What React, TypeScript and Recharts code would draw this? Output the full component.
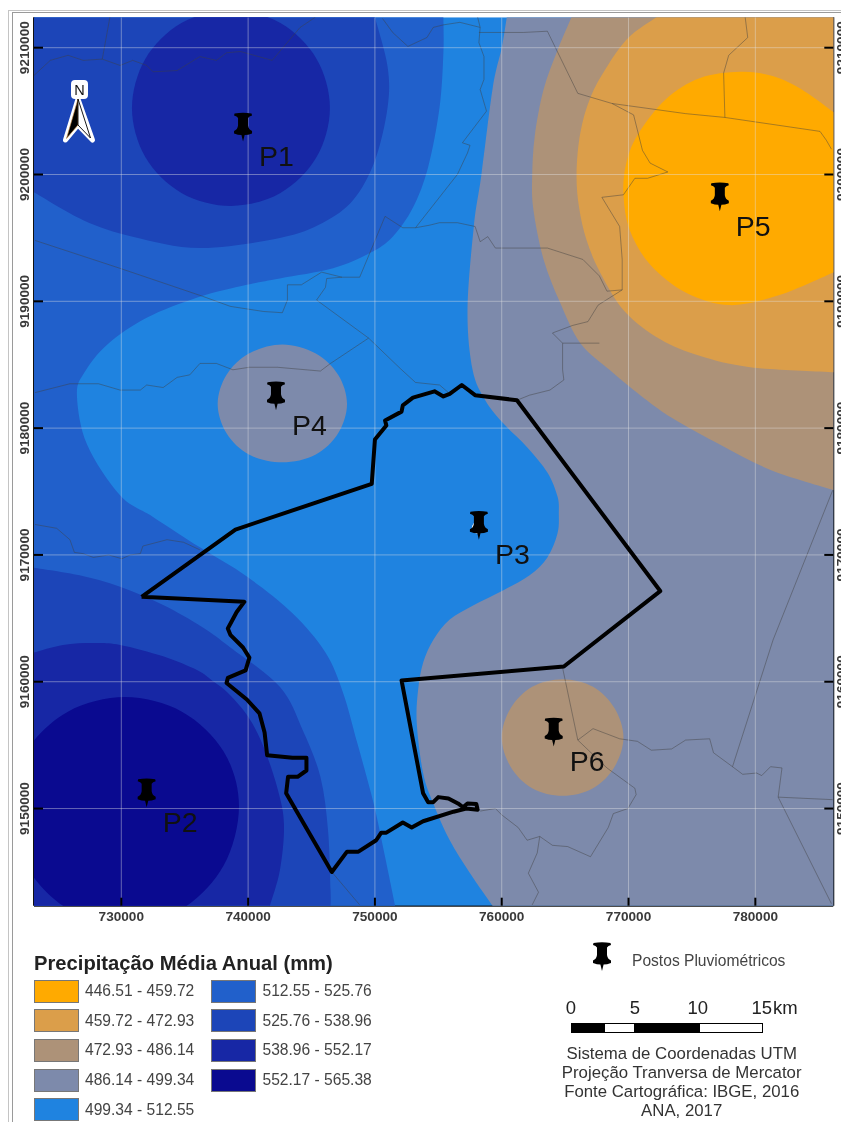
import React from 'react';
import { ComposedChart, XAxis, YAxis, Scatter } from 'recharts';

// All map coordinates are UTM kilometres (easting, northing).
const xDomain = [723.115, 786.148];
const yDomain = [9142.338, 9212.397];
const eastTicks = [730, 740, 750, 760, 770, 780];
const northTicks = [9150, 9160, 9170, 9180, 9190, 9200, 9210];

const legendRanges = [
  '446.51 - 459.72', '459.72 - 472.93', '472.93 - 486.14', '486.14 - 499.34', '499.34 - 512.55',
  '512.55 - 525.76', '525.76 - 538.96', '538.96 - 552.17', '552.17 - 565.38',
];
const classColors = ['#FFAA00', '#DB9E4A', '#AD9278', '#7D8AAB', '#1F83E0', '#2160CB', '#1C45B8', '#1727A5', '#0A0A90'];

const stations = [
  { x: 739.6, y: 9202.6, name: 'P1' },
  { x: 732.0, y: 9150.1, name: 'P2' },
  { x: 758.2, y: 9171.2, name: 'P3' },
  { x: 742.2, y: 9181.4, name: 'P4' },
  { x: 777.2, y: 9197.1, name: 'P5' },
  { x: 764.1, y: 9154.9, name: 'P6' },
];

const eastContour = [[760.4,9212.4],[760.0,9210.0],[759.3,9206.9],[758.4,9200.0],[757.8,9195.9],[757.3,9189.3],[757.7,9184.6],[758.7,9182.2],[760.1,9180.4],[762.0,9178.5],[763.6,9176.5],[764.4,9174.6],[764.5,9173.3],[764.4,9171.7],[763.6,9169.8],[762.2,9168.4],[760.1,9167.2],[757.7,9166.0],[755.9,9164.9],[754.6,9163.3],[753.8,9161.5],[753.4,9159.3],[753.3,9156.7],[753.8,9152.8],[754.6,9150.4],[755.9,9147.5],[757.5,9144.9],[759.3,9142.3]];
const eastCorners = [[786.2,9142.3],[786.2,9212.4]];
const tanContour = [[765.5,9212.4],[764.4,9209.8],[763.3,9206.7],[762.6,9203.0],[762.4,9199.8],[762.5,9197.2],[763.3,9193.3],[764.6,9189.9],[766.2,9186.7],[768.5,9184.6],[770.4,9183.0],[772.5,9181.4],[774.1,9180.4],[777.2,9178.7],[781.2,9176.7],[786.2,9175.1]];
const tanCorners = [[786.2,9212.4]];
const ochreContour = [[772.2,9212.4],[770.0,9210.8],[768.3,9208.5],[767.0,9206.1],[766.2,9203.3],[765.9,9200.1],[766.1,9197.4],[766.7,9194.8],[767.8,9192.2],[769.7,9189.2],[772.5,9187.0],[775.6,9185.7],[779.6,9184.8],[786.2,9184.4]];
const ochreCorners = [[786.2,9212.4]];
const orangeContour = [[786.2,9204.9],[783.5,9206.8],[781.2,9207.8],[778.8,9208.1],[775.6,9207.6],[772.9,9205.9],[770.7,9203.1],[769.8,9200.8],[769.6,9198.4],[770.1,9195.6],[771.7,9192.9],[774.5,9190.7],[778.0,9189.7],[781.9,9190.5],[786.2,9192.3]];
const p4Contour = [[747.8,9181.9],[747.1,9184.2],[745.3,9185.9],[742.7,9186.6],[740.1,9185.9],[738.3,9184.2],[737.6,9181.9],[738.3,9179.6],[740.1,9177.9],[742.7,9177.3],[745.3,9177.9],[747.1,9179.6]];
const p6Contour = [[769.6,9155.6],[768.9,9157.9],[767.2,9159.6],[764.8,9160.2],[762.4,9159.6],[760.7,9157.9],[760.0,9155.6],[760.7,9153.3],[762.4,9151.6],[764.8,9151.0],[767.2,9151.6],[768.9,9153.3]];
const westContour = [[755.4,9212.4],[755.4,9209.6],[755.1,9205.3],[754.2,9200.6],[753.0,9197.4],[751.4,9195.1],[749.6,9193.8],[746.7,9192.6],[742.5,9191.8],[739.9,9191.3],[736.0,9190.3],[732.0,9188.7],[728.9,9186.6],[727.1,9184.4],[726.5,9182.6],[727.3,9178.7],[729.9,9174.7],[732.5,9173.0],[736.2,9170.6],[739.9,9168.3],[743.5,9165.4],[746.1,9162.3],[747.5,9159.1],[748.6,9155.2],[749.9,9150.4],[750.8,9146.2],[751.6,9142.3]];
const westCorners = [[723.1,9142.3],[723.1,9212.4]];
const northMidContour = [[750.0,9212.4],[751.0,9208.5],[751.0,9205.3],[750.0,9201.1],[748.3,9198.0],[745.9,9196.2],[742.5,9195.0],[736.2,9194.2],[730.9,9195.1],[727.0,9196.4],[723.1,9198.6]];
const northMidCorners = [[723.1,9212.4]];
const northCoreContour = [[746.45,9205.24],[745.4,9209.11],[742.55,9211.94],[738.65,9212.97],[734.74,9211.94],[731.89,9209.11],[730.84,9205.24],[731.89,9201.38],[734.74,9198.55],[738.65,9197.52],[742.55,9198.55],[745.4,9201.38]];
const southMidContour = [[723.1,9169.0],[726.7,9168.4],[729.9,9167.5],[733.3,9166.05],[736.4,9164.3],[738.6,9162.7],[742.5,9159.6],[744.3,9156.2],[745.7,9152.5],[746.3,9148.3],[746.5,9143.6],[746.5,9142.3]];
const southMidCorners = [[723.1,9142.3]];
const southHighContour = [[723.1,9162.3],[725.4,9162.9],[727.8,9163.05],[729.9,9162.9],[733.3,9162.0],[736.0,9160.9],[737.15,9160.1],[738.33,9159.19],[739.91,9157.37],[741.17,9155.0],[742.35,9151.46],[742.83,9148.7],[742.51,9145.15],[741.72,9142.34]];
const southHighCorners = [[723.1,9142.3]];
const southCoreContour = [[739.28,9150.2],[738.07,9154.5],[734.78,9157.64],[730.29,9158.79],[725.79,9157.64],[722.5,9154.5],[721.3,9150.2],[722.5,9145.5],[725.79,9142.08],[730.29,9140.8],[734.78,9142.08],[738.07,9145.5]];

const basinOutline = [[731.6,9166.7],[739.0,9172.0],[749.75,9175.6],[750.0,9179.1],[750.9,9180.2],[750.8,9180.6],[752.1,9181.3],[752.2,9181.8],[753.0,9182.4],[754.7,9182.9],[755.4,9182.5],[755.9,9182.7],[756.85,9183.4],[757.9,9182.6],[761.2,9182.2],[772.5,9167.15],[764.9,9161.2],[752.1,9160.1],[753.8,9151.2],[754.2,9150.5],[754.6,9150.5],[755.0,9150.9],[755.8,9150.8],[756.55,9150.4],[756.95,9150.1],[757.3,9150.4],[758.0,9150.35],[758.1,9149.9],[757.2,9150.0],[756.2,9149.75],[753.8,9149.0],[752.9,9148.5],[752.2,9148.9],[750.9,9148.1],[750.5,9148.1],[750.1,9147.5],[748.7,9146.6],[747.8,9146.6],[746.6,9145.0],[743.0,9151.2],[743.15,9152.5],[743.9,9152.5],[744.6,9153.0],[744.6,9154.0],[743.5,9154.0],[741.5,9154.2],[741.3,9156.0],[740.9,9157.5],[739.9,9158.6],[738.3,9159.9],[738.4,9160.3],[739.8,9160.9],[740.1,9161.9],[739.6,9162.7],[738.6,9163.7],[738.4,9164.2],[739.1,9165.5],[739.7,9166.3],[731.6,9166.7]];

const borderA = [[723.1,9207.8],[724.4,9209.0],[725.8,9209.4],[727.0,9209.0],[728.5,9209.1],[729.9,9208.6],[730.9,9209.0],[732.0,9208.6],[732.5,9208.1],[734.4,9208.2],[736.2,9209.3],[737.5,9209.0],[738.3,9209.6],[739.4,9209.7],[741.9,9209.0],[744.1,9211.6],[745.3,9212.4]];
const borderB = [[729.1,9212.4],[728.5,9209.1]];
const borderC = [[750.6,9212.3],[751.4,9211.2],[752.6,9210.1],[754.1,9210.8],[754.6,9211.6],[755.4,9211.8],[756.7,9212.0],[758.3,9211.6]];
const borderD = [[758.1,9212.4],[758.3,9211.6],[758.2,9210.4],[758.6,9209.3],[758.6,9207.5],[758.3,9206.7],[758.8,9205.0],[756.9,9202.5],[757.5,9202.3],[757.3,9201.7],[756.5,9200.0],[753.2,9195.8]];
const borderE = [[758.2,9211.2],[761.7,9211.2],[763.6,9211.3],[766.0,9206.4],[768.7,9205.6],[774.5,9204.8],[777.6,9204.5],[785.1,9203.4],[785.6,9202.7],[786.0,9202.0]];
const borderF = [[779.2,9212.4],[779.4,9210.8],[777.9,9209.4],[777.5,9208.0],[777.6,9204.5]];
const borderG = [[768.7,9205.6],[770.4,9204.7],[771.1,9201.9],[771.7,9200.9],[773.1,9200.2],[771.5,9199.7],[770.5,9199.7],[769.6,9198.4],[767.9,9198.2],[769.3,9195.9],[769.5,9193.3],[769.5,9190.9],[767.6,9189.7],[766.8,9188.4],[765.6,9188.1],[764.0,9187.5],[764.8,9186.7],[764.8,9184.6],[764.9,9183.8],[763.8,9183.0],[762.2,9182.6],[761.2,9182.2]];
const borderG2 = [[764.8,9186.7],[767.7,9186.7]];
const borderH = [[753.2,9195.8],[754.3,9196.0],[755.1,9196.2],[756.5,9196.2],[757.9,9195.9],[758.3,9194.7],[758.9,9195.1],[759.5,9194.2],[763.6,9194.2],[766.4,9193.3],[767.7,9192.0],[768.3,9190.8],[769.5,9190.9]];
const borderI = [[753.2,9195.8],[752.2,9195.8],[750.8,9196.7],[748.8,9191.9],[747.4,9191.9],[745.8,9192.3],[744.2,9191.3],[743.1,9191.3],[743.1,9190.1],[742.7,9189.1],[741.2,9189.2],[738.6,9189.6],[736.4,9190.4],[729.9,9192.6],[723.2,9194.8]];
const borderJ = [[747.4,9191.9],[746.2,9191.8],[746.1,9191.1],[745.4,9190.1],[749.5,9187.1],[752.0,9184.7],[753.2,9183.6],[755.1,9183.4],[755.8,9182.8]];
const borderS = [[723.2,9182.8],[725.95,9183.5],[728.2,9183.5],[729.9,9183.0],[731.5,9183.0],[732.0,9183.4],[733.3,9183.2],[734.4,9184.0],[735.4,9184.2],[736.2,9185.1],[737.5,9185.1],[738.8,9184.6],[740.1,9184.8],[742.3,9184.8],[745.7,9184.5],[746.5,9185.1],[749.5,9187.1]];
const borderT = [[723.2,9172.4],[724.9,9172.1],[725.95,9171.2],[726.3,9170.2],[727.0,9170.1],[727.8,9169.8],[729.0,9170.0],[730.05,9169.7],[730.7,9170.0],[731.5,9170.1],[731.7,9170.7],[733.6,9171.2],[734.9,9171.0],[736.2,9170.4]];
const borderL = [[764.8,9161.1],[766.0,9155.4],[767.2,9156.3],[769.3,9155.5],[770.7,9155.3],[771.8,9154.6],[773.4,9154.7],[774.5,9155.4],[776.4,9155.5],[776.7,9154.4],[778.2,9153.3],[779.0,9152.7],[780.1,9152.8],[780.5,9152.6],[780.8,9152.9],[781.2,9153.3],[782.1,9153.2],[781.8,9150.9],[786.1,9150.7]];
const borderM = [[778.2,9153.3],[781.4,9163.3],[786.1,9175.1]];
const borderN = [[781.8,9150.9],[786.0,9142.5]];
const borderO = [[766.0,9155.4],[768.3,9153.2],[770.5,9151.6],[770.6,9151.1],[769.95,9150.0],[768.8,9149.6],[768.4,9148.5],[767.0,9146.2],[765.2,9147.0],[764.0,9147.1],[763.0,9147.8],[762.0,9147.5],[761.3,9148.5],[760.0,9149.5],[759.5,9150.0],[758.3,9149.8]];
const borderP = [[763.0,9147.8],[762.8,9146.5],[762.1,9144.9],[762.9,9143.4],[762.4,9142.4]];
const borderQ = [[746.6,9145.0],[748.8,9142.4]];

const regions = [
  { colorIndex: 3, contour: eastContour, corners: eastCorners },
  { colorIndex: 2, contour: tanContour, corners: tanCorners },
  { colorIndex: 1, contour: ochreContour, corners: ochreCorners },
  { colorIndex: 0, contour: orangeContour, corners: [] },
  { colorIndex: 3, contour: p4Contour, corners: [], closed: true },
  { colorIndex: 2, contour: p6Contour, corners: [], closed: true },
  { colorIndex: 5, contour: westContour, corners: westCorners },
  { colorIndex: 6, contour: northMidContour, corners: northMidCorners },
  { colorIndex: 7, contour: northCoreContour, corners: [], closed: true },
  { colorIndex: 6, contour: southMidContour, corners: southMidCorners },
  { colorIndex: 7, contour: southHighContour, corners: southHighCorners },
  { colorIndex: 8, contour: southCoreContour, corners: [], closed: true },
];
const borders = [borderA, borderB, borderC, borderD, borderE, borderF, borderG, borderG2, borderH, borderI, borderJ, borderS, borderT, borderL, borderM, borderN, borderO, borderP, borderQ];
const backdrop = [[xDomain[0], yDomain[0]], [xDomain[1], yDomain[0]], [xDomain[1], yDomain[1]], [xDomain[0], yDomain[1]]];
const gridLines = [
  ...eastTicks.map((t) => [[t, yDomain[0]], [t, yDomain[1]]]),
  ...northTicks.map((t) => [[xDomain[0], t], [xDomain[1], t]]),
];

const toPoints = (list: number[][]) => list.map(([x, y]) => ({ x, y }));
const FONT = '"Liberation Sans", Arial, sans-serif';

function splinePath(pts: { x: number; y: number }[], closed: boolean) {
  const n = pts.length;
  const at = (i: number) => (closed ? pts[(i + n) % n] : pts[Math.max(0, Math.min(n - 1, i))]);
  let d = `M${pts[0].x},${pts[0].y}`;
  const segments = closed ? n : n - 1;
  for (let i = 0; i < segments; i++) {
    const p0 = at(i - 1), p1 = at(i), p2 = at(i + 1), p3 = at(i + 2);
    d += `C${p1.x + (p2.x - p0.x) / 6},${p1.y + (p2.y - p0.y) / 6} ${p2.x - (p3.x - p1.x) / 6},${p2.y - (p3.y - p1.y) / 6} ${p2.x},${p2.y}`;
  }
  return d;
}

const regionLine = (fill: string, smoothCount: number, closed: boolean) => (props: any) => {
  const pts = props.points;
  let d = splinePath(pts.slice(0, smoothCount), closed);
  pts.slice(smoothCount).forEach((p: any) => { d += `L${p.x},${p.y}`; });
  return <path d={d + 'Z'} fill={fill} stroke="none" />;
};

const NoMark = () => <g />;

const PIN = 'M-8.5,-28 Q0,-29.5 8.5,-28 L9,-26 Q6,-25.5 5,-23.5 L5,-16 Q5.5,-12 9,-10.5 L9,-8 Q5,-6.5 1.6,-6.5 L0,0 L-1.6,-6.5 Q-5,-6.5 -9,-8 L-9,-10.5 Q-5.5,-12 -5,-16 L-5,-23.5 Q-6,-25.5 -9,-26 Z';

const StationMark = (props: any) => {
  const { cx, cy, payload } = props;
  return (
    <g transform={`translate(${cx},${cy})`}>
      {payload.name === 'P3' ? <circle cx={-1} cy={-12} r={6} fill="#fff" /> : null}
      <path d={PIN} fill="#000" />
      <text x={16} y={24.5} fontFamily={FONT} fontSize={28.5} fill="#111">{payload.name}</text>
    </g>
  );
};

const TICK_STYLE = { fontFamily: FONT, fontSize: 13.6, fontWeight: 700, fill: '#3a3a3a' } as const;

const BottomTick = ({ x, y, payload }: any) => (
  <g>
    <line x1={x} x2={x} y1={y} y2={y - 8} stroke="#000" strokeWidth={2} />
    <text x={x} y={y + 15.2} textAnchor="middle" {...TICK_STYLE}>{payload.value * 1000}</text>
  </g>
);
const TopTick = ({ x, y }: any) => <line x1={x} x2={x} y1={y} y2={y + 8} stroke="#000" strokeWidth={2} />;
const LeftTick = ({ x, y, payload }: any) => (
  <g>
    <line x1={x} x2={x + 9} y1={y} y2={y} stroke="#000" strokeWidth={2} />
    <text transform={`translate(${x - 4.7},${y}) rotate(-90)`} textAnchor="middle" {...TICK_STYLE}>{payload.value * 1000}</text>
  </g>
);
const RightTick = ({ x, y, payload }: any) => (
  <g>
    <line x1={x} x2={x - 9} y1={y} y2={y} stroke="#000" strokeWidth={2} />
    <text transform={`translate(${x + 12.7},${y}) rotate(-90)`} textAnchor="middle" {...TICK_STYLE}>{payload.value * 1000}</text>
  </g>
);

const abs = (left: number, top: number, extra: React.CSSProperties = {}): React.CSSProperties => ({
  position: 'absolute', left, top, fontFamily: FONT, whiteSpace: 'nowrap', ...extra,
});

const legendText = { fontSize: 15.6, color: '#444', lineHeight: '18px' };
const creditLines = ['Sistema de Coordenadas UTM', 'Projeção Tranversa de Mercator', 'Fonte Cartográfica: IBGE, 2016', 'ANA, 2017'];
const scaleLabels = [{ t: '0', x: 571 }, { t: '5', x: 635 }, { t: '10', x: 697.7 }, { t: '15', x: 761.7 }];
const scaleSegments = [{ l: 570.7, w: 33.6, c: '#000' }, { l: 604.3, w: 30.7, c: '#fff' }, { l: 635, w: 64, c: '#000' }, { l: 699, w: 63.7, c: '#fff' }];

export default function App() {
  return (
    <div style={{ position: 'absolute', left: 0, top: 0, width: 841, height: 1122, overflow: 'hidden', background: '#fff', filter: 'blur(0.35px)' }}>
      <div style={{ position: 'absolute', left: 8, top: 10, right: 0, bottom: 0, borderLeft: '1px solid #c4c4c4', borderTop: '1px solid #c4c4c4' }} />
      <div style={{ position: 'absolute', left: 12, top: 12, right: 0, bottom: 0, borderLeft: '1px solid #9a9a9a', borderTop: '1px solid #9a9a9a' }} />

      <div style={{ position: 'absolute', left: 0, top: 0 }}>
        <ComposedChart width={841} height={1122} margin={{ top: 17.3, right: 0, bottom: 0, left: 0 }}>
          <XAxis dataKey="x" type="number" domain={xDomain} ticks={eastTicks} interval={0} allowDataOverflow orientation="bottom"
            height={216.3} tickSize={0} tickMargin={0} tick={BottomTick} axisLine={{ stroke: '#111', strokeWidth: 2 }} />
          <XAxis xAxisId="top" dataKey="x" type="number" domain={xDomain} ticks={eastTicks} interval={0} allowDataOverflow orientation="top"
            height={0} tickSize={0} tickMargin={0} tick={TopTick} axisLine={{ stroke: '#111', strokeWidth: 2 }} />
          <YAxis dataKey="y" type="number" domain={yDomain} ticks={northTicks} interval={0} allowDataOverflow orientation="left"
            width={34} tickSize={0} tickMargin={0} tick={LeftTick} axisLine={{ stroke: '#111', strokeWidth: 2 }} />
          <YAxis yAxisId="right" dataKey="y" type="number" domain={yDomain} ticks={northTicks} interval={0} allowDataOverflow orientation="right"
            width={7.7} tickSize={0} tickMargin={0} tick={RightTick} axisLine={{ stroke: '#111', strokeWidth: 2 }} />

          <Scatter data={toPoints(backdrop)} shape={NoMark} line={regionLine(classColors[4], 1, false) as any} isAnimationActive={false} legendType="none" />
          {regions.map((r, i) => (
            <Scatter key={`region-${i}`} data={toPoints([...r.contour, ...r.corners])} shape={NoMark}
              line={regionLine(classColors[r.colorIndex], r.contour.length, !!r.closed) as any}
              isAnimationActive={false} legendType="none" />
          ))}
          {borders.map((b, i) => (
            <Scatter key={`border-${i}`} data={toPoints(b)} shape={NoMark}
              line={{ stroke: '#404040', strokeOpacity: 0.45, strokeWidth: 1, fill: 'none' }}
              isAnimationActive={false} legendType="none" />
          ))}
          {gridLines.map((g, i) => (
            <Scatter key={`grid-${i}`} data={toPoints(g)} shape={NoMark}
              line={{ stroke: '#e4e4e4', strokeOpacity: 0.42, strokeWidth: 1, fill: 'none' }}
              isAnimationActive={false} legendType="none" />
          ))}
          <Scatter data={toPoints(basinOutline)} shape={NoMark}
            line={{ stroke: '#000', strokeWidth: 4, fill: 'none', strokeLinejoin: 'round' }}
            isAnimationActive={false} legendType="none" />
          <Scatter data={stations} shape={StationMark} isAnimationActive={false} legendType="none" />
        </ComposedChart>
      </div>

      {/* north arrow */}
      <svg style={{ position: 'absolute', left: 60, top: 76 }} width={40} height={72} viewBox="60 76 40 72">
        <rect x={72} y={81} width={15} height={17} rx={3} fill="#fff" stroke="#fff" strokeWidth={2} />
        <text x={79.5} y={95} textAnchor="middle" fontFamily={FONT} fontSize={14.5} fill="#111">N</text>
        <path d="M78,99 L65.5,140 L78,125 L92.5,140 Z" fill="#fff" stroke="#fff" strokeWidth={5} strokeLinejoin="round" />
        <path d="M78,99 L66.5,138.5 L78,125 Z" fill="#000" stroke="#c98a3e" strokeWidth={0.6} />
        <path d="M78,99 L90.5,138 L78,125 Z" fill="#fff" stroke="#000" strokeWidth={0.9} />
      </svg>

      {/* legend */}
      <div style={abs(34, 951.5, { fontSize: 20.2, fontWeight: 700, color: '#222', lineHeight: '23px' })}>Precipitação Média Anual (mm)</div>
      {legendRanges.map((label, i) => {
        const col = i < 5 ? 0 : 1;
        const row = col === 0 ? i : i - 5;
        const left = col === 0 ? 33.5 : 211;
        const top = 979.5 + row * 29.7;
        return (
          <React.Fragment key={label}>
            <div style={{ position: 'absolute', left, top, width: 45, height: 23, boxSizing: 'border-box', background: classColors[i], border: '1.5px solid #777' }} />
            <div style={abs(left + 51.5, top + 2.5, legendText)}>{label}</div>
          </React.Fragment>
        );
      })}

      {/* station key */}
      <svg style={{ position: 'absolute', left: 585, top: 938 }} width={34} height={38} viewBox="-17 -33 34 38">
        <path d={PIN} fill="#000" />
      </svg>
      <div style={abs(632, 951.5, legendText)}>Postos Pluviométricos</div>

      {/* scale bar */}
      {scaleLabels.map((s) => (
        <div key={s.t} style={abs(s.x - 20, 998, { width: 40, textAlign: 'center', fontSize: 18.5, color: '#222', lineHeight: '20px' })}>{s.t}</div>
      ))}
      <div style={abs(773, 998, { fontSize: 18.5, color: '#222', lineHeight: '20px' })}>km</div>
      {scaleSegments.map((s) => (
        <div key={s.l} style={{ position: 'absolute', left: s.l, top: 1022.7, width: s.w, height: 10, boxSizing: 'border-box', background: s.c, border: '1.3px solid #000' }} />
      ))}

      {/* credits */}
      {creditLines.map((line, i) => (
        <div key={line} style={abs(541.7, 1043.5 + i * 19.3, { width: 280, textAlign: 'center', fontSize: 16.8, color: '#333', lineHeight: '19px' })}>{line}</div>
      ))}
    </div>
  );
}
